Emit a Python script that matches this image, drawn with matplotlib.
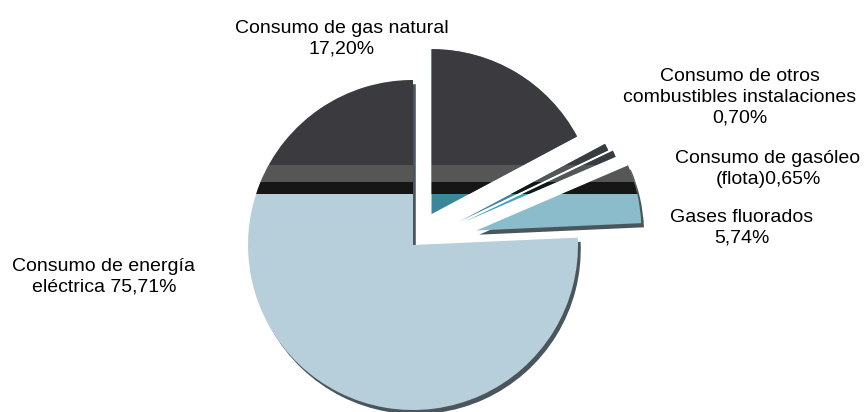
import matplotlib.pyplot as plt
import matplotlib.patheffects as pe
from matplotlib.patches import Rectangle

# slices in drawing order: clockwise from 12 o'clock
labels = ['Consumo de gas natural\n17,20%',
          'Consumo de otros\ncombustibles instalaciones\n0,70%',
          'Consumo de gasóleo\n(flota)0,65%',
          'Gases fluorados\n5,74%',
          'Consumo de energía\neléctrica 75,71%']
values = [17.20, 0.70, 0.65, 5.74, 75.71]
explode = [36, 52, 56, 65, 0]   # pie offsets, in pixels here
colors = ['#3a879b', '#37849a', '#42a0b9', '#8bbccb', '#b7cfdb']

# label anchor positions (pixels, from the top left corner)
label_pos = [(342, 39), (740, 97), (768, 169), (742, 228), (104, 277)]

plt.rcParams['font.family'] = ['Liberation Sans', 'DejaVu Sans']

fig = plt.figure(figsize=(8.64, 4.12), dpi=100)
ax = fig.add_axes([0, 0, 1, 1])

H = 412
wedges, _ = ax.pie(values, explode=explode, colors=colors, startangle=90,
                   counterclock=False, radius=165, center=(413, H - 245),
                   frame=True, wedgeprops=dict(linewidth=0))

for i, w in enumerate(wedges):
    if i in (3, 4):
        w.set_path_effects([pe.SimplePatchShadow(offset=(2, -3), shadow_rgbFace='#4b565c', alpha=1),
                            pe.Normal()])
    # the damaged band across the top half of the picture
    for y0, y1, c in [(0, 165, '#3b3a3e'), (165, 182, '#565656'), (182, 194, '#161616')]:
        r = Rectangle((0, H - y1), 864, y1 - y0, facecolor=c, edgecolor='none', zorder=w.get_zorder() + 0.1)
        ax.add_patch(r)
        r.set_clip_path(w)

for txt, (x, y) in zip(labels, label_pos):
    ax.text(x, H - y, txt, ha='center', va='center', fontsize=14, linespacing=1.3, color='black')

ax.set_xlim(0, 864)
ax.set_ylim(0, H)
ax.set_aspect('auto')
ax.axis('off')

plt.savefig('out.png', dpi=100)
